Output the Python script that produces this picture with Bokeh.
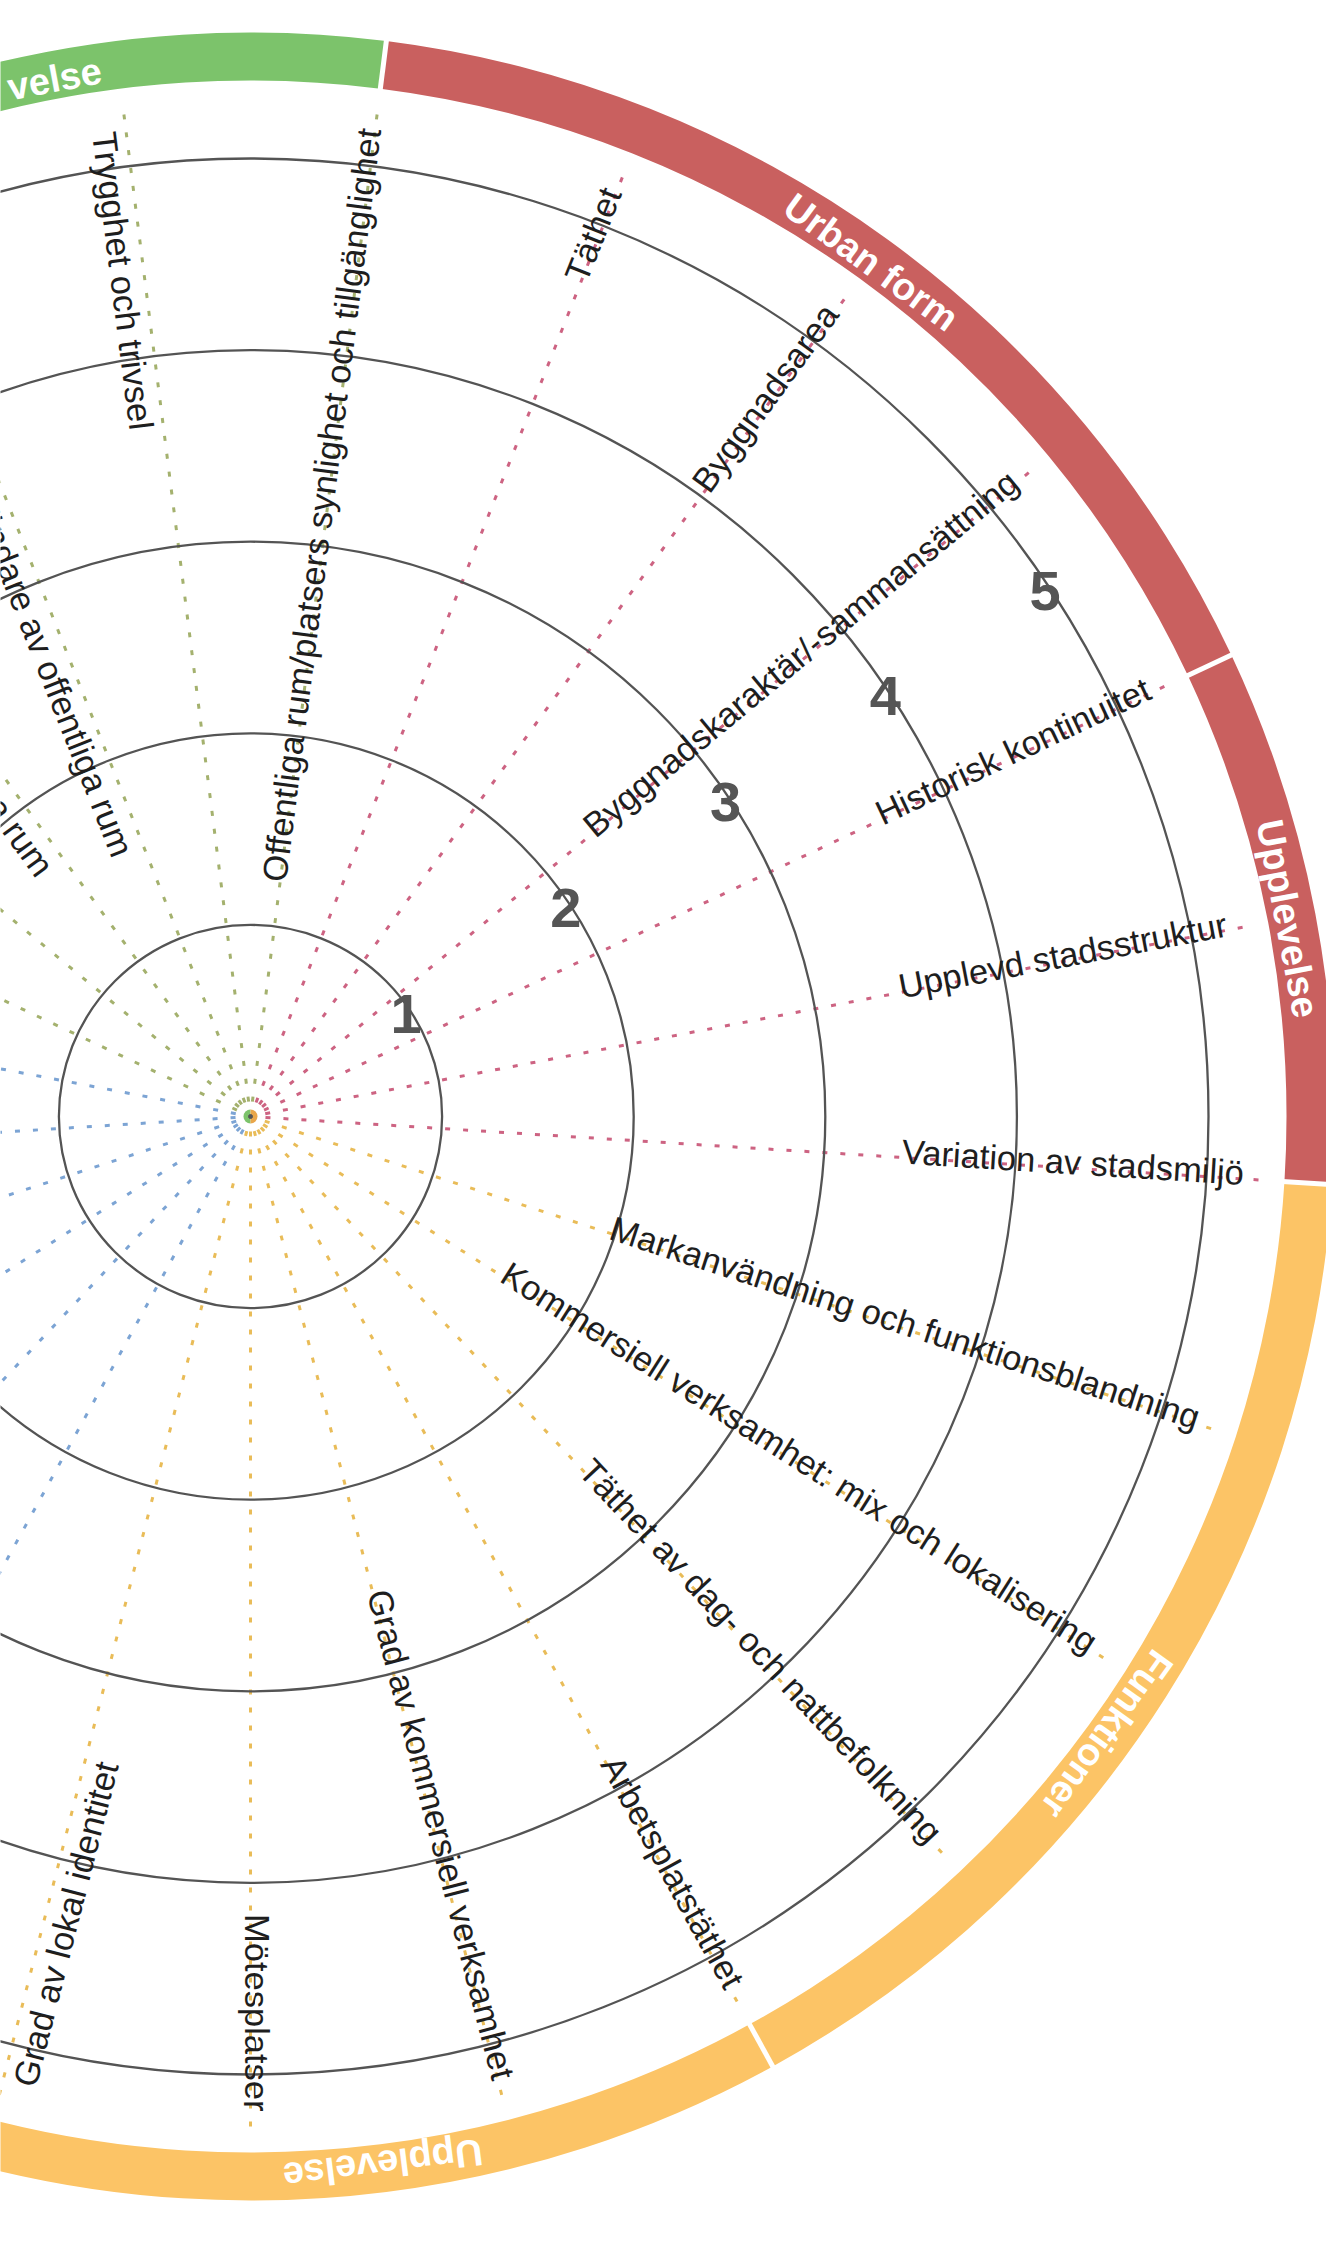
import numpy as np
from bokeh.plotting import figure
from bokeh.models import Range1d
from bokeh.core.properties import value
from bokeh.embed import file_html
from bokeh.resources import INLINE

# ---------------- data ----------------
ring_levels = [1, 2, 3, 4, 5]
ring_labels = ["1", "2", "3", "4", "5"]

# 25 indicators, index 0 points straight down, counted counter-clockwise
spoke_labels = [
    "Mötesplatser",
    "Grad av kommersiell verksamhet",
    "Arbetsplatstäthet",
    "Täthet av dag- och nattbefolkning",
    "Kommersiell verksamhet: mix och lokalisering",
    "Markanvändning och funktionsblandning",
    "Variation av stadsmiljö",
    "Upplevd stadsstruktur",
    "Historisk kontinuitet",
    "Byggnadskaraktär/-sammansättning",
    "Byggnadsarea",
    "Täthet",
    "Offentliga rum/platsers synlighet och tillgänglighet",
    "Trygghet och trivsel",
    "ändare av offentliga rum",
    "iga rum",
    "", "", "", "", "", "", "", "",
    "Grad av lokal identitet",
]
spoke_groups = (["orange"] * 6 + ["red"] * 6 + ["green"] * 6 +
                ["blue"] * 6 + ["orange"])
partial_labels = [14, 15]          # labels cut by the left edge of the picture

band_names = ["Urban form", "Upplevelse", "Funktioner", "Upplevelse", "velse"]
band_from = [8, 6, 2, -1, 12]      # in spoke steps
band_to = [12, 8, 6, 2, 15]
band_groups = ["red", "red", "orange", "orange", "green"]

# ---------------- styling ----------------
N = len(spoke_labels)
STEP = 2 * np.pi / N
BASE = -np.pi / 2
UNIT = 191.6            # px per ring level
R_SPOKE0, R_SPOKE1 = 15, 1012
R_TEXT = 995
R_BAND_IN, R_BAND_OUT = 1036, 1084

spoke_col = {"red": "#cd6382", "orange": "#e9bc58", "green": "#a4b16e", "blue": "#7ca4d4"}
band_col = {"red": "#c9605f", "orange": "#fcc466", "green": "#7cc36b"}
FONT = value("Liberation Sans")

W, H = 1326, 2230
CX, CY = 250, 1116
p = figure(width=W, height=H, x_range=Range1d(-CX, W - CX), y_range=Range1d(CY - H, CY),
           output_backend="svg", toolbar_location=None, min_border=0)
p.axis.visible = False
p.grid.visible = False
p.outline_line_color = None
p.background_fill_color = "white"
p.border_fill_color = "white"

ang = BASE + STEP * np.arange(N)

# outer band
bs = BASE + STEP * np.array(band_from)
be = BASE + STEP * np.array(band_to)
p.annular_wedge(x=0, y=0, inner_radius=R_BAND_IN, outer_radius=R_BAND_OUT,
                start_angle=list(bs), end_angle=list(be),
                fill_color=[band_col[g] for g in band_groups], line_color=None)
bounds = np.unique(np.concatenate([bs, be]))
p.segment(x0=list((R_BAND_IN - 6) * np.cos(bounds)), y0=list((R_BAND_IN - 6) * np.sin(bounds)),
          x1=list((R_BAND_OUT + 6) * np.cos(bounds)), y1=list((R_BAND_OUT + 6) * np.sin(bounds)),
          line_color="white", line_width=5)

# band labels
bm = (bs + be) / 2
bm[2] = bm[2] - np.radians(3.4)      # "Funktioner" sits a little clockwise of the middle
bm[4] = bm[4] - np.radians(3.7)      # only the tail "velse" of the label is visible
rm = 1056
p.text(x=list(rm * np.cos(bm)), y=list(rm * np.sin(bm)), text=band_names,
       angle=list(bm - np.pi / 2), text_align="center", text_baseline="middle",
       text_font=FONT, text_font_style="bold", text_font_size="38px", text_color="white")

# spokes
p.segment(x0=list(R_SPOKE0 * np.cos(ang)), y0=list(R_SPOKE0 * np.sin(ang)),
          x1=list(R_SPOKE1 * np.cos(ang)), y1=list(R_SPOKE1 * np.sin(ang)),
          line_color=[spoke_col[g] for g in spoke_groups], line_width=3, line_dash="5 13")

# centre dot
p.wedge(x=0, y=0, radius=7, start_angle=[np.pi / 2, -np.pi / 2], end_angle=[3 * np.pi / 2, np.pi / 2],
        fill_color=["#7cc36b", "#e9a64a"], line_color=None)
p.scatter(x=[0], y=[0], size=4, color="#555555")

# rings
p.circle(x=[0] * len(ring_levels), y=[0] * len(ring_levels),
         radius=[UNIT * v for v in ring_levels], fill_color=None,
         line_color="#545454", line_width=2.3)

# ring numbers
na = np.radians(33.5)
nr = np.array([UNIT * v - 5 for v in ring_levels])
p.text(x=list(nr * np.cos(na)), y=list(nr * np.sin(na)), text=ring_labels,
       text_align="center", text_baseline="middle", text_font=FONT,
       text_font_style="bold", text_font_size="56px", text_color="#555555")

# spoke labels
rx, ry, rt, ra = [], [], [], []
lx, ly, lt, la = [], [], [], []
px_, py_, pt_, pa_ = [], [], [], []
partial_inner = {14: 290, 15: 318}
for k, (lab, a) in enumerate(zip(spoke_labels, ang)):
    if not lab:
        continue
    deg = (np.degrees(a) + 360) % 360
    right_side = deg >= 270 - 1e-6 or deg <= 90 + 1e-6
    nx, ny = -np.sin(a), np.cos(a)       # counter-clockwise normal
    if k in partial_labels:
        r0 = partial_inner[k]
        px_.append(r0 * np.cos(a) + 3 * nx); py_.append(r0 * np.sin(a) + 3 * ny)
        pt_.append(lab); pa_.append(a - np.pi)
    elif right_side:
        rx.append(R_TEXT * np.cos(a) + 6 * nx); ry.append(R_TEXT * np.sin(a) + 6 * ny)
        rt.append(lab); ra.append(a)
    else:
        lx.append(R_TEXT * np.cos(a) + 3 * nx); ly.append(R_TEXT * np.sin(a) + 3 * ny)
        lt.append(lab); la.append(a - np.pi)

common = dict(text_font=FONT, text_font_size="34.5px", text_color="#1e1e1e")
p.text(x=rx, y=ry, text=rt, angle=ra, text_align="right", text_baseline="alphabetic", **common)
p.text(x=lx, y=ly, text=lt, angle=la, text_align="left", text_baseline="top", **common)
p.text(x=px_, y=py_, text=pt_, angle=pa_, text_align="right", text_baseline="top", **common)

open("out.html", "w").write(file_html(p, INLINE))
